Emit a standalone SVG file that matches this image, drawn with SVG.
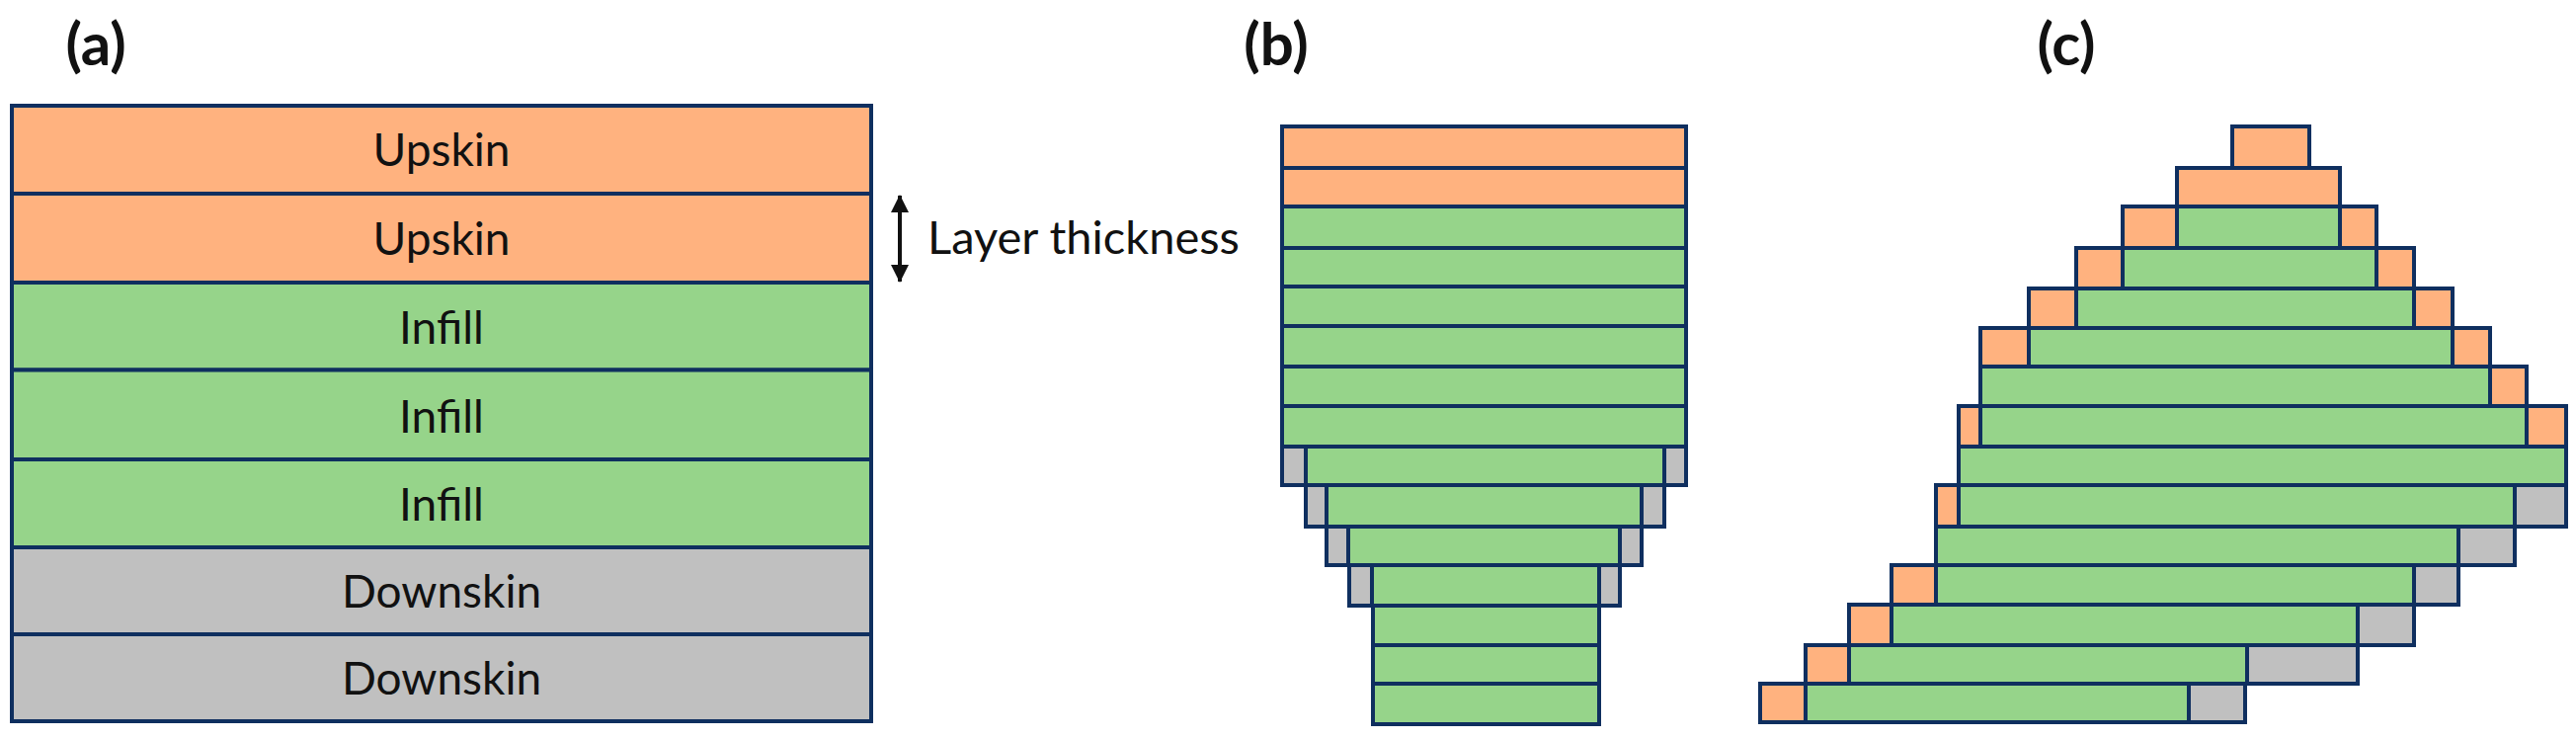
<svg xmlns="http://www.w3.org/2000/svg" width="2608" height="748" viewBox="0 0 2608 748">
<style>
rect{stroke:#0f2f5f;stroke-width:4}
.u{fill:#ffb27f}.i{fill:#96d48a}.d{fill:#c0c0c0}
text{font-family:Lato,"Noto Sans",sans-serif;fill:#111;text-anchor:middle}
.l{font-size:46px}.t{font-size:47px}.h{font-size:60px;font-weight:700}
</style>
<defs><marker id="ah" markerWidth="18" markerHeight="18" refX="17" refY="9" orient="auto-start-reverse" markerUnits="userSpaceOnUse" viewBox="0 0 18 18"><path d="M0 0L18 9L0 18Z" fill="#111"/></marker></defs>
<rect width="2608" height="748" style="fill:#fff;stroke:none"/>
<text class="h" x="97" y="66">(a)</text><text class="h" x="1292" y="66">(b)</text><text class="h" x="2092" y="66">(c)</text>
<g id="panel-a">
<g id="a1"><rect class="u" x="12" y="107" width="870" height="89"/><text class="l" x="447" y="168">Upskin</text></g>
<g id="a2"><rect class="u" x="12" y="196" width="870" height="90"/><text class="l" x="447" y="258">Upskin</text></g>
<g id="a3"><rect class="i" x="12" y="286" width="870" height="88.500"/><text class="l" x="447" y="348">Infill</text></g>
<g id="a4"><rect class="i" x="12" y="374.500" width="870" height="90.500"/><text class="l" x="447" y="438">Infill</text></g>
<g id="a5"><rect class="i" x="12" y="465" width="870" height="89"/><text class="l" x="447" y="527">Infill</text></g>
<g id="a6"><rect class="d" x="12" y="554" width="870" height="88"/><text class="l" x="447" y="615">Downskin</text></g>
<g id="a7"><rect class="d" x="12" y="642" width="870" height="88"/><text class="l" x="447" y="703">Downskin</text></g>
</g>
<g id="connectors"><line x1="911" y1="198" x2="911" y2="285" stroke="#111" stroke-width="4" marker-start="url(#ah)" marker-end="url(#ah)"/></g>
<text class="t" x="1097" y="257">Layer thickness</text>
<g id="panel-b">
<rect class="u" x="1298" y="128" width="409" height="42"/><rect class="u" x="1298" y="170" width="409" height="39"/>
<rect class="i" x="1298" y="209" width="409" height="42"/><rect class="i" x="1298" y="251" width="409" height="39"/><rect class="i" x="1298" y="290" width="409" height="40"/><rect class="i" x="1298" y="330" width="409" height="41"/><rect class="i" x="1298" y="371" width="409" height="40"/><rect class="i" x="1298" y="411" width="409" height="41"/>
<rect class="d" x="1298" y="452" width="24" height="39"/><rect class="i" x="1322" y="452" width="363" height="39"/><rect class="d" x="1685" y="452" width="22" height="39"/>
<rect class="d" x="1322" y="491" width="21" height="42"/><rect class="i" x="1343" y="491" width="319" height="42"/><rect class="d" x="1662" y="491" width="23" height="42"/>
<rect class="d" x="1343" y="533" width="22" height="39"/><rect class="i" x="1365" y="533" width="275" height="39"/><rect class="d" x="1640" y="533" width="22" height="39"/>
<rect class="d" x="1366" y="572" width="23" height="41"/><rect class="i" x="1389" y="572" width="230" height="41"/><rect class="d" x="1619" y="572" width="21" height="41"/>
<rect class="i" x="1390" y="613" width="229" height="40"/><rect class="i" x="1390" y="653" width="229" height="39"/><rect class="i" x="1390" y="692" width="229" height="41"/>
</g>
<g id="panel-c">
<rect class="u" x="2260" y="128" width="78" height="42"/>
<rect class="u" x="2204" y="170" width="165" height="39"/>
<rect class="u" x="2149" y="209" width="55" height="42"/><rect class="i" x="2204" y="209" width="165" height="42"/><rect class="u" x="2369" y="209" width="37" height="42"/>
<rect class="u" x="2102" y="251" width="47" height="41"/><rect class="i" x="2149" y="251" width="257" height="41"/><rect class="u" x="2406" y="251" width="38" height="41"/>
<rect class="u" x="2054" y="292" width="48" height="40"/><rect class="i" x="2102" y="292" width="342" height="40"/><rect class="u" x="2444" y="292" width="39" height="40"/>
<rect class="u" x="2005" y="332" width="49" height="39"/><rect class="i" x="2054" y="332" width="429" height="39"/><rect class="u" x="2483" y="332" width="38" height="39"/>
<rect class="i" x="2005" y="371" width="516" height="40"/><rect class="u" x="2521" y="371" width="37" height="40"/>
<rect class="u" x="1983" y="411" width="22" height="41"/><rect class="i" x="2005" y="411" width="553" height="41"/><rect class="u" x="2558" y="411" width="40" height="41"/>
<rect class="i" x="1983" y="452" width="615" height="39"/>
<rect class="u" x="1960" y="491" width="23" height="42"/><rect class="i" x="1983" y="491" width="563" height="42"/><rect class="d" x="2546" y="491" width="52" height="42"/>
<rect class="i" x="1960" y="533" width="529" height="39"/><rect class="d" x="2489" y="533" width="57" height="39"/>
<rect class="u" x="1915" y="572" width="45" height="40"/><rect class="i" x="1960" y="572" width="484" height="40"/><rect class="d" x="2444" y="572" width="45" height="40"/>
<rect class="u" x="1872" y="612" width="43" height="41"/><rect class="i" x="1915" y="612" width="472" height="41"/><rect class="d" x="2387" y="612" width="57" height="41"/>
<rect class="u" x="1828" y="653" width="44" height="39"/><rect class="i" x="1872" y="653" width="403" height="39"/><rect class="d" x="2275" y="653" width="112" height="39"/>
<rect class="u" x="1782" y="692" width="46" height="39"/><rect class="i" x="1828" y="692" width="388" height="39"/><rect class="d" x="2216" y="692" width="57" height="39"/>
</g>
</svg>
